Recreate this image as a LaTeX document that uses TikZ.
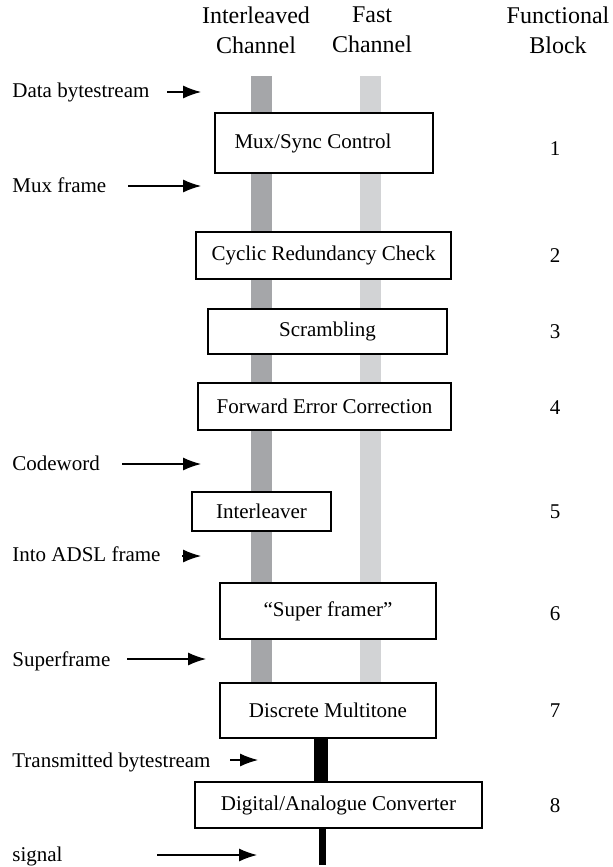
\documentclass[tikz,border=0pt]{standalone}
\usepackage{fontspec}
\setmainfont{Liberation Serif}
\usetikzlibrary{arrows.meta}

\definecolor{ilgray}{HTML}{A5A6A9}
\definecolor{fastgray}{HTML}{D2D3D5}

\begin{document}
\begin{tikzpicture}[x=0.5pt,y=-0.5pt,
  block/.style={draw,line width=0.6pt,fill=white,inner sep=0pt,
    font=\fontsize{10.5}{12}\selectfont},
  lbl/.style={anchor=base west,inner sep=0pt,font=\fontsize{10.5}{12}\selectfont},
  num/.style={anchor=base,inner sep=0pt,font=\fontsize{10.5}{12}\selectfont},
  head/.style={align=center,inner sep=0pt,font=\fontsize{12}{15}\selectfont},
  feed/.style={-{Latex[length=9pt,width=6.5pt]},line width=0.55pt}]

\useasboundingbox (0,0) rectangle (613,867);

% channels
\fill[color=ilgray]   (251,76) rectangle (272,683);
\fill[color=fastgray] (360,76) rectangle (381,683);
\fill[color=black]    (314,738) rectangle (327.5,782);
\fill[color=black]    (318.5,828) rectangle (326,865);

% headings
\node[head] (hil)  at (256,30) {Interleaved\\Channel};
\node[head] (hfa)  at (372,30) {Fast\\Channel};
\node[head] (hfb)  at (558,30) {Functional\\Block};

% blocks
\node[block,minimum width=109pt,minimum height=30pt]   (mux) at (324,143)     {\kern-11pt Mux/Sync Control};
\node[block,minimum width=127.5pt,minimum height=23.5pt] (crc) at (323.5,255.5) {Cyclic Redundancy Check};
\node[block,minimum width=119.5pt,minimum height=22.5pt] (scr) at (327.5,331.5) {Scrambling};
\node[block,minimum width=126.5pt,minimum height=23.5pt] (fec) at (324.5,406.5) {Forward Error Correction};
\node[block,minimum width=69.5pt,minimum height=19.5pt]  (itl) at (261.5,511.5) {Interleaver};
\node[block,minimum width=108pt,minimum height=28pt]    (sfr) at (328,611)     {``Super framer''};
\node[block,minimum width=108pt,minimum height=27.5pt]  (dmt) at (328,710.5)   {Discrete Multitone};
\node[block,minimum width=143.5pt,minimum height=23pt]  (dac) at (338.5,805)   {Digital/Analogue Converter};

% block numbers
\node[num] (n1) at (555,155) {1};
\node[num] (n2) at (555,262) {2};
\node[num] (n3) at (555,338) {3};
\node[num] (n4) at (555,414) {4};
\node[num] (n5) at (555,518) {5};
\node[num] (n6) at (555,620) {6};
\node[num] (n7) at (555,717) {7};
\node[num] (n8) at (555,812) {8};

% stream labels
\node[lbl] (ldata) at (12,97)  {Data bytestream};
\node[lbl] (lmux)  at (12,192) {Mux frame};
\node[lbl] (lcw)   at (12,470) {Codeword};
\node[lbl] (ladsl) at (12,561) {Into ADSL frame};
\node[lbl] (lsup)  at (12,666) {Superframe};
\node[lbl] (ltx)   at (12,767) {Transmitted bytestream};
\node[lbl] (lsig)  at (12,861) {signal};

\coordinate (a1) at (167,92);  \coordinate (b1) at (201,92);
\coordinate (a2) at (128,186); \coordinate (b2) at (201,186);
\coordinate (a3) at (122,464); \coordinate (b3) at (201,464);
\coordinate (a4) at (182,556); \coordinate (b4) at (201,556);
\coordinate (a5) at (127,659); \coordinate (b5) at (206,659);
\coordinate (a6) at (230,760); \coordinate (b6) at (258,760);
\coordinate (a7) at (157,855); \coordinate (b7) at (257,855);

\foreach \i in {1,...,7}
  \draw[feed] (a\i) -- (b\i);

\end{tikzpicture}
\end{document}
